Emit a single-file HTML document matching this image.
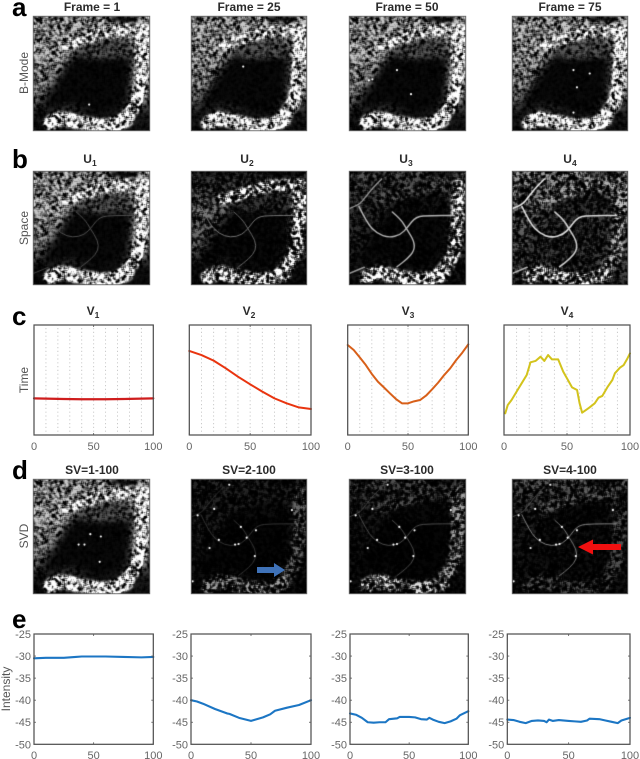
<!DOCTYPE html>
<html lang="en">
<head>
<meta charset="utf-8">
<title>SVD ultrasound panels</title>
<style>
html,body{margin:0;padding:0;background:#fff}
#stage{position:relative;width:640px;height:759px;overflow:hidden;background:#fff;font-family:"Liberation Sans",sans-serif}
canvas{position:absolute;display:block;background:#000}
#ink{position:absolute;left:0;top:0;filter:blur(.35px)}
.title{font-size:12px;font-weight:bold;fill:#2b2b2b;text-anchor:middle}
.sub{font-size:8.5px;font-weight:bold;fill:#2b2b2b}
.letter{font-size:26px;font-weight:bold;fill:#000}
.ylab{font-size:12px;fill:#555;text-anchor:middle}
.tick{font-size:11px;fill:#666}
</style>
</head>
<body>
<div id="stage">
<canvas id="im-a1" width="117" height="115" style="left:33px;top:16px"></canvas>
<canvas id="im-a2" width="116" height="115" style="left:191px;top:16px"></canvas>
<canvas id="im-a3" width="117" height="115" style="left:349px;top:16px"></canvas>
<canvas id="im-a4" width="116" height="115" style="left:512px;top:16px"></canvas>
<canvas id="im-b1" width="117" height="114" style="left:33px;top:171px"></canvas>
<canvas id="im-b2" width="116" height="114" style="left:191px;top:171px"></canvas>
<canvas id="im-b3" width="117" height="114" style="left:349px;top:171px"></canvas>
<canvas id="im-b4" width="116" height="114" style="left:512px;top:171px"></canvas>
<canvas id="im-d1" width="117" height="115" style="left:33px;top:479px"></canvas>
<canvas id="im-d2" width="116" height="115" style="left:191px;top:479px"></canvas>
<canvas id="im-d3" width="117" height="115" style="left:349px;top:479px"></canvas>
<canvas id="im-d4" width="116" height="115" style="left:512px;top:479px"></canvas>

<svg id="ink" width="640" height="759" viewBox="0 0 640 759" xmlns="http://www.w3.org/2000/svg">
  <text class="letter" x="12" y="16">a</text>
  <text class="letter" x="12" y="168">b</text>
  <text class="letter" x="12" y="325">c</text>
  <text class="letter" x="12" y="479">d</text>
  <text class="letter" x="12" y="628">e</text>

  <text class="title" x="92" y="11">Frame = 1</text>
  <text class="title" x="249" y="11">Frame = 25</text>
  <text class="title" x="407" y="11">Frame = 50</text>
  <text class="title" x="570" y="11">Frame = 75</text>

  <text class="title" x="90" y="163">U<tspan class="sub" dy="3">1</tspan></text>
  <text class="title" x="247" y="163">U<tspan class="sub" dy="3">2</tspan></text>
  <text class="title" x="406" y="163">U<tspan class="sub" dy="3">3</tspan></text>
  <text class="title" x="570" y="163">U<tspan class="sub" dy="3">4</tspan></text>

  <text class="title" x="93" y="315">V<tspan class="sub" dy="3">1</tspan></text>
  <text class="title" x="249" y="315">V<tspan class="sub" dy="3">2</tspan></text>
  <text class="title" x="408" y="315">V<tspan class="sub" dy="3">3</tspan></text>
  <text class="title" x="567" y="315">V<tspan class="sub" dy="3">4</tspan></text>

  <text class="title" x="92" y="474">SV=1-100</text>
  <text class="title" x="249" y="474">SV=2-100</text>
  <text class="title" x="407" y="474">SV=3-100</text>
  <text class="title" x="570" y="474">SV=4-100</text>

  <text class="ylab" transform="translate(28,73) rotate(-90)">B-Mode</text>
  <text class="ylab" transform="translate(28,228) rotate(-90)">Space</text>
  <text class="ylab" transform="translate(28,380) rotate(-90)">Time</text>
  <text class="ylab" transform="translate(28,536) rotate(-90)">SVD</text>
  <text class="ylab" transform="translate(10,689) rotate(-90)">Intensity</text>

  <g id="frames"></g>
  <g id="charts"></g>

  <polygon fill="#3f72b8" points="257,567 274,567 274,563 285,570 274,577 274,573 257,573"></polygon>
  <polygon fill="#f01010" points="578,547 593,539.5 593,544 621,544 621,550 593,550 593,554.5"></polygon>
</svg>
</div>

<script>
/* ---------- line chart data ---------- */
var xTickLabels = [0, 50, 100];
var yTickLabels = [-25, -30, -35, -40, -45, -50];
var gridSteps = [10, 20, 30, 40, 50, 60, 70, 80, 90];

var v1X = [0, 10, 25, 40, 50, 60, 75, 90, 100];
var v1Y = [0.333, 0.331, 0.327, 0.325, 0.325, 0.325, 0.327, 0.331, 0.333];
var v2X = [0, 10, 20, 30, 40, 50, 60, 70, 80, 90, 100];
var v2Y = [0.764, 0.727, 0.676, 0.606, 0.530, 0.461, 0.394, 0.333, 0.288, 0.251, 0.236];
var v3X = [0, 5, 10, 15, 20, 25, 30, 35, 40, 45, 50, 55, 60, 65, 70, 75, 80, 85, 90, 95, 100];
var v3Y = [0.818, 0.773, 0.706, 0.636, 0.555, 0.485, 0.433, 0.379, 0.327, 0.288, 0.288, 0.306, 0.318, 0.358, 0.415, 0.476, 0.545, 0.606, 0.682, 0.748, 0.824];
var v4X = [1, 3, 6, 10, 14, 18, 20, 21, 25, 29, 32, 35, 38, 43, 47, 50, 54, 58, 60, 62, 65, 68, 72, 75, 78, 82, 86, 88, 92, 95, 98, 100];
var v4Y = [0.197, 0.273, 0.318, 0.394, 0.470, 0.545, 0.621, 0.661, 0.673, 0.712, 0.673, 0.727, 0.688, 0.688, 0.576, 0.515, 0.433, 0.409, 0.288, 0.203, 0.227, 0.252, 0.288, 0.339, 0.355, 0.433, 0.500, 0.561, 0.612, 0.636, 0.697, 0.742];

var e1X = [0, 10, 25, 35, 40, 50, 60, 75, 90, 100];
var e1Y = [-30.5, -30.4, -30.4, -30.2, -30.1, -30.1, -30.1, -30.2, -30.3, -30.2];
var e2X = [0, 5, 10, 20, 30, 32, 40, 50, 60, 66, 70, 80, 90, 100];
var e2Y = [-40, -40.3, -40.8, -42, -43, -43.1, -44, -44.7, -43.9, -43.2, -42.4, -41.7, -41.1, -40];
var e3X = [0, 5, 10, 15, 20, 25, 30, 33, 40, 42, 50, 55, 60, 65, 67, 70, 75, 80, 85, 90, 93, 100];
var e3Y = [-43, -43.3, -44, -45, -45.1, -45, -45, -44.3, -44.1, -43.8, -43.8, -43.9, -44.3, -44.4, -44, -44.4, -44.9, -45.2, -44.8, -44.2, -43.4, -42.5];
var e4X = [0, 5, 10, 15, 20, 25, 30, 32, 34, 37, 42, 50, 55, 60, 65, 67, 75, 80, 85, 90, 93, 100];
var e4Y = [-44.4, -44.5, -44.9, -45.2, -44.7, -44.6, -44.7, -45, -44.4, -44.7, -44.5, -44.7, -44.8, -44.9, -44.6, -44.2, -44.3, -44.6, -44.9, -45.2, -44.6, -44];

var NS = 'http://www.w3.org/2000/svg';
var chartsLayer = document.getElementById('charts');
var framesLayer = document.getElementById('frames');

function svgEl(tag, attrs, parent) {
  var el = document.createElementNS(NS, tag);
  for (var k in attrs) el.setAttribute(k, attrs[k]);
  parent.appendChild(el);
  return el;
}

function makeLineChart(cfg) {
  var g = svgEl('g', {}, chartsLayer);
  
  
  var sx = function (v) { return cfg.x0 + (v - 0) / 100 * (cfg.x1 - cfg.x0); };
  var sy = function (v) { return cfg.y1 - (v - cfg.yMin) / (cfg.yMax - cfg.yMin) * (cfg.y1 - cfg.y0); };

  if (cfg.grid) {
    gridSteps.forEach(function (s) {
      var gl = svgEl('line', { x1: sx(s), x2: sx(s), y1: cfg.y0 + 3, y2: cfg.y1, stroke: '#c4c4c4', 'stroke-width': 0.9, 'stroke-dasharray': '1.2 2.6' }, g);
      
      
    });
  }

  var pts = cfg.xs.map(function (x, i) { return sx(x).toFixed(2) + ',' + sy(cfg.ys[i]).toFixed(2); }).join(' ');
  var line = svgEl('polyline', { points: pts, fill: 'none', stroke: cfg.color, 'stroke-width': cfg.lw, 'stroke-linejoin': 'round', 'stroke-linecap': 'round' }, g);
  
  

  var box = svgEl('rect', { x: cfg.x0, y: cfg.y0, width: cfg.x1 - cfg.x0, height: cfg.y1 - cfg.y0, fill: 'none', stroke: '#4a4a4a', 'stroke-width': 1.2 }, g);
  
  

  xTickLabels.forEach(function (t) {
    var px = sx(t);
    svgEl('line', { x1: px, x2: px, y1: cfg.y1, y2: cfg.y1 - 2, stroke: '#555', 'stroke-width': 0.8 }, g);
    svgEl('line', { x1: px, x2: px, y1: cfg.y0, y2: cfg.y0 + 2, stroke: '#555', 'stroke-width': 0.8 }, g);
    var label = svgEl('text', { x: px, y: cfg.y1 + cfg.xLabelGap, 'text-anchor': 'middle', class: 'tick' }, g);
    
    
    label.textContent = t;
  });

  if (cfg.yTicks) {
    yTickLabels.forEach(function (t) {
      var py = sy(t);
      svgEl('line', { x1: cfg.x0, x2: cfg.x0 + 2, y1: py, y2: py, stroke: '#555', 'stroke-width': 0.8 }, g);
      svgEl('line', { x1: cfg.x1, x2: cfg.x1 - 2, y1: py, y2: py, stroke: '#555', 'stroke-width': 0.8 }, g);
      var label = svgEl('text', { x: cfg.x0 - 3, y: py + 4, 'text-anchor': 'end', class: 'tick' }, g);
      
      
      label.textContent = t;
    });
  }
}

var timeBase = { y0: 325, y1: 435, yMin: 0, yMax: 1, grid: true, yTicks: false, xLabelGap: 15, lw: 2 };
var intBase = { y0: 634, y1: 744.3, yMin: -50, yMax: -25, grid: false, yTicks: true, xLabelGap: 14.5, lw: 2.1, color: '#1c76c4' };
function withBase(base, extra) {
  var o = {}, k;
  for (k in base) o[k] = base[k];
  for (k in extra) o[k] = extra[k];
  return o;
}
makeLineChart(withBase(timeBase, { name: 'v1-chart', x0: 34, x1: 153.3, xs: v1X, ys: v1Y, color: '#cf1d1d', lw: 2.2 }));
makeLineChart(withBase(timeBase, { name: 'v2-chart', x0: 189.3, x1: 311, xs: v2X, ys: v2Y, color: '#e9340f' }));
makeLineChart(withBase(timeBase, { name: 'v3-chart', x0: 347.7, x1: 468.3, xs: v3X, ys: v3Y, color: '#d8601a' }));
makeLineChart(withBase(timeBase, { name: 'v4-chart', x0: 504, x1: 630, xs: v4X, ys: v4Y, color: '#d3c31c' }));
makeLineChart(withBase(intBase, { name: 'intensity-1-chart', x0: 34, x1: 153.3, xs: e1X, ys: e1Y }));
makeLineChart(withBase(intBase, { name: 'intensity-2-chart', x0: 191, x1: 311, xs: e2X, ys: e2Y }));
makeLineChart(withBase(intBase, { name: 'intensity-3-chart', x0: 350, x1: 468.3, xs: e3X, ys: e3Y }));
makeLineChart(withBase(intBase, { name: 'intensity-4-chart', x0: 507.3, x1: 630, xs: e4X, ys: e4Y }));

/* ---------- procedural ultrasound textures (decorative imagery) ---------- */
var lumenPoly = [[.26,.44],[.40,.28],[.78,.25],[.86,.37],[.83,.72],[.71,.85],[.54,.86],[.34,.79],[.23,.79],[.08,.84],[.09,.73]];
var dimPoly = [[.36,.27],[.55,.21],[.78,.19],[.87,.28],[.82,.36],[.45,.38]];
var notchPoly = [[.65,0],[.92,0],[.88,.05],[.68,.05]];
var armPath = [[.28,.24],[.40,.22],[.55,.16],[.72,.12],[.92,.13]];
var rightPath = [[.94,.13],[.93,.40],[.92,.60],[.89,.76],[.78,.90]];
var bottomPath = [[.15,.93],[.22,.89],[.30,.90],[.42,.93],[.55,.96],[.70,.95],[.80,.90]];
var vesselA = [[0,.33],[.085,.30],[.14,.23],[.21,.14],[.28,.07]];
var vesselB = [[.085,.31],[.156,.46],[.24,.55],[.34,.585],[.44,.56],[.5,.495],[.57,.40],[.70,.39],[.9,.39]];
var vesselC = [[.37,.36],[.44,.42],[.49,.505],[.555,.61],[.56,.695],[.5,.77],[.41,.84]];
var vesselD = [[0,.9],[.13,.845]];
var bubbles = [[.057,.316],[.2,.26],[.33,.05],[.43,.417],[.56,.446],[.48,.51],[.24,.53],[.38,.57],[.41,.565],[.55,.67],[.87,.27],[.014,.89],[.16,.6]];

var imageSpecs = [
  { id:'im-a1', seed:11, tissue:.62, fade:.10, arm:.85, right:1, bottom:1, gamma:1, vessels:[], dots:[[.48,.77]] },
  { id:'im-a2', seed:11, tissue:.62, fade:.10, arm:.85, right:1, bottom:1, gamma:1, vessels:[], dots:[[.45,.44]] },
  { id:'im-a3', seed:11, tissue:.62, fade:.10, arm:.85, right:1, bottom:1, gamma:1, vessels:[], dots:[[.41,.47],[.2,.55],[.17,.56],[.53,.68]] },
  { id:'im-a4', seed:11, tissue:.62, fade:.10, arm:.85, right:1, bottom:1, gamma:1, vessels:[], dots:[[.53,.47],[.67,.5],[.56,.62],[.53,.84]] },
  { id:'im-b1', seed:11, tissue:.62, fade:.06, arm:.85, right:1, bottom:1, gamma:1, vessels:[[vesselB,.3,1],[vesselC,.3,1],[vesselD,.25,1]], dots:[] },
  { id:'im-b2', seed:23, tissue:.38, fade:.06, arm:.95, right:1, bottom:1, gamma:1.8, top:.12, vessels:[[vesselB,.45,1],[vesselC,.4,1]], dots:[] },
  { id:'im-b3', seed:37, tissue:.16, fade:.08, arm:.28, right:.8, bottom:1, gamma:1.9, top:.28, vessels:[[vesselA,.6,1.2],[vesselB,.7,1.4],[vesselC,.7,1.4],[vesselD,.6,1.6]], dots:[] },
  { id:'im-b4', seed:41, tissue:.34, fade:.24, arm:.55, right:.6, bottom:.8, gamma:2, top:.5, lumen:.18, vessels:[[vesselA,.9,1.5],[vesselB,.85,1.6],[vesselC,.8,1.6],[vesselD,.7,1.6]], dots:[] },
  { id:'im-d1', seed:11, tissue:.62, fade:.10, arm:.85, right:1, bottom:1, gamma:1, vessels:[], dots:[[.39,.57],[.44,.57],[.49,.48],[.58,.50],[.57,.72]] },
  { id:'im-d2', seed:53, tissue:.10, fade:.06, arm:.10, right:.32, bottom:.5, gamma:2.6, top:.12, lumen:.02, vessels:[[vesselA,.2,.8],[vesselB,.24,.8],[vesselC,.24,.8]], dots:bubbles },
  { id:'im-d3', seed:59, tissue:.08, fade:.06, arm:.25, right:.5, bottom:.7, gamma:2.4, top:.25, lumen:.02, vessels:[[vesselA,.3,.8],[vesselB,.35,.8],[vesselC,.35,.8]], dots:bubbles },
  { id:'im-d4', seed:61, tissue:.10, fade:.08, arm:.3, right:.25, bottom:.25, gamma:2.4, top:.3, lumen:.05, vessels:[[vesselA,.35,.8],[vesselB,.55,.9],[vesselC,.5,.9]], dots:bubbles }
];

function rng(seed) {
  return function () {
    seed |= 0; seed = seed + 0x6D2B79F5 | 0;
    var t = Math.imul(seed ^ seed >>> 15, 1 | seed);
    t = t + Math.imul(t ^ t >>> 7, 61 | t) ^ t;
    return ((t ^ t >>> 14) >>> 0) / 4294967296;
  };
}

function speckle(w, h, seed) {
  var r = rng(seed), a = new Float32Array(w * h), b = new Float32Array(w * h), i, x, y;
  for (i = 0; i < w * h; i++) a[i] = r();
  for (y = 0; y < h; y++) for (x = 0; x < w; x++) {
    var sum = 0, n = 0;
    for (var dy = -1; dy <= 1; dy++) for (var dx = -1; dx <= 1; dx++) {
      var xx = x + dx, yy = y + dy;
      if (xx >= 0 && yy >= 0 && xx < w && yy < h) { sum += a[yy * w + xx]; n++; }
    }
    b[y * w + x] = sum / n;
  }
  for (i = 0; i < w * h; i++) b[i] = Math.max(0, Math.min(1, (b[i] - 0.5) * 3.4 + 0.55));
  return b;
}

function tracePoly(c, pts, W, H, close) {
  c.beginPath();
  pts.forEach(function (p, i) { if (i) c.lineTo(p[0] * W, p[1] * H); else c.moveTo(p[0] * W, p[1] * H); });
  if (close) c.closePath();
}
function traceCurve(c, pts, W, H) {
  c.beginPath();
  c.moveTo(pts[0][0] * W, pts[0][1] * H);
  for (var i = 1; i < pts.length - 1; i++) {
    var mx = (pts[i][0] + pts[i + 1][0]) / 2, my = (pts[i][1] + pts[i + 1][1]) / 2;
    c.quadraticCurveTo(pts[i][0] * W, pts[i][1] * H, mx * W, my * H);
  }
  var last = pts[pts.length - 1];
  c.lineTo(last[0] * W, last[1] * H);
}
function gray(v) { var g = Math.round(Math.min(1, v) * 255); return 'rgb(' + g + ',' + g + ',' + g + ')'; }

function renderImage(spec) {
  var cv = document.getElementById(spec.id);
  var W = cv.width, H = cv.height;
  var off = document.createElement('canvas'); off.width = W; off.height = H;
  var m = off.getContext('2d');

  var top = spec.top === undefined ? spec.tissue : spec.top;
  var grad = m.createLinearGradient(0, 0, 0, H);
  grad.addColorStop(0, gray(top));
  grad.addColorStop(.35, gray(spec.tissue));
  grad.addColorStop(.65, gray(spec.tissue * .8));
  grad.addColorStop(.85, gray(spec.fade));
  grad.addColorStop(1, gray(spec.fade * .6));
  m.fillStyle = grad; m.fillRect(0, 0, W, H);

  m.filter = 'blur(1.5px)';
  m.fillStyle = gray(spec.fade);
  tracePoly(m, notchPoly, W, H, true); m.fill();
  m.filter = 'blur(4px)';
  m.fillStyle = gray(spec.lumen === undefined ? .03 : spec.lumen);
  tracePoly(m, lumenPoly, W, H, true); m.fill();
  m.filter = 'blur(2.5px)';
  m.fillStyle = gray(spec.tissue * .45);
  tracePoly(m, dimPoly, W, H, true); m.fill();
  m.filter = 'blur(1.2px)';
  m.lineCap = 'round'; m.lineJoin = 'round';
  m.strokeStyle = gray(spec.arm); m.lineWidth = W * .095;
  traceCurve(m, armPath, W, H); m.stroke();
  m.strokeStyle = gray(spec.right); m.lineWidth = W * .115;
  traceCurve(m, rightPath, W, H); m.stroke();
  m.strokeStyle = gray(spec.bottom); m.lineWidth = W * .125;
  traceCurve(m, bottomPath, W, H); m.stroke();
  m.filter = 'none';

  var mask = m.getImageData(0, 0, W, H), sp = speckle(W, H, spec.seed);
  for (var i = 0; i < W * H; i++) {
    var v = mask.data[i * 4] / 255 * Math.pow(sp[i], spec.gamma) * 1.25;
    var g = Math.min(255, v * 255);
    mask.data[i * 4] = mask.data[i * 4 + 1] = mask.data[i * 4 + 2] = g;
  }
  m.putImageData(mask, 0, 0);

  spec.vessels.forEach(function (vs) {
    m.strokeStyle = gray(vs[1]); m.lineWidth = vs[2];
    traceCurve(m, vs[0], W, H); m.stroke();
  });
  m.fillStyle = '#fff';
  spec.dots.forEach(function (d) {
    m.beginPath(); m.arc(d[0] * W, d[1] * H, 1.1, 0, Math.PI * 2); m.fill();
  });

  var ctx = cv.getContext('2d');
  ctx.fillStyle = '#000';
  ctx.fillRect(0, 0, W, H);
  ctx.filter = 'blur(.5px)';
  ctx.drawImage(off, 0, 0);

  var fr = svgEl('rect', { x: parseFloat(cv.style.left) + .25, y: parseFloat(cv.style.top) + .25, width: W - .5, height: H - .5, fill: 'none', stroke: '#6a6a6a', 'stroke-width': .9 }, framesLayer);
  
  
}
imageSpecs.forEach(renderImage);
</script>
</body>
</html>
